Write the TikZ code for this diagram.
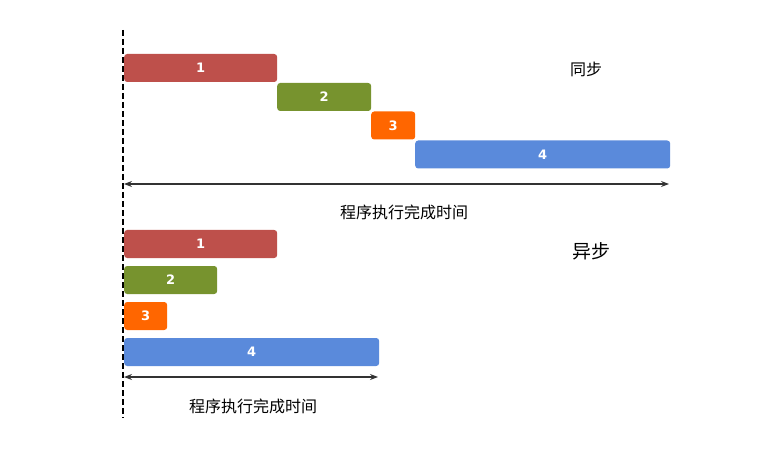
\documentclass[tikz,border=0pt]{standalone}
\usepackage{fontspec}
\newfontfamily\cjk{Noto Sans CJK SC}
\newfontfamily\numfont{DejaVu Sans}
\usetikzlibrary{arrows.meta}
\definecolor{taskred}{HTML}{BE504B}
\definecolor{taskgreen}{HTML}{77932E}
\definecolor{taskorange}{HTML}{FF6600}
\definecolor{taskblue}{HTML}{5A8ADB}

\begin{document}
\begin{tikzpicture}[x=1pt,y=-1pt,
    bar/.style={rounded corners=3pt,inner sep=0pt,minimum height=28pt,anchor=west,
      text=white,font=\numfont\bfseries\fontsize{13}{13}\selectfont},
    lbl/.style={font=\cjk\fontsize{16}{16}\selectfont},
    span/.style={{Stealth[length=8pt,width=6pt]}-{Stealth[length=8pt,width=6pt]},line width=1.2pt,black!80}]
    \useasboundingbox (0,0) rectangle (773,470);
    % start line
    \coordinate (top) at (123,30);
    \coordinate (bot) at (123,418);
    \draw[line width=1.5pt,dash pattern=on 6pt off 3pt] (top) -- (bot);
    % synchronous
    \node[bar,fill=taskred,minimum width=153pt] (s1) at (124,68) {1};
    \node[bar,fill=taskgreen,minimum width=94pt] (s2) at (277,97) {2};
    \node[bar,fill=taskorange,minimum width=44pt] (s3) at (371,125.5) {3};
    \node[bar,fill=taskblue,minimum width=255pt] (s4) at (415,154.5) {4};
    \coordinate (sl) at (124,184);
    \coordinate (sr) at (669,184);
    \draw[span] (sl) -- (sr);
    \node[lbl] (stime) at (404,212) {程序执行完成时间};
    \node[lbl] (sync) at (586,69) {同步};
    % asynchronous
    \node[bar,fill=taskred,minimum width=153pt] (a1) at (124,244) {1};
    \node[bar,fill=taskgreen,minimum width=93pt] (a2) at (124,280) {2};
    \node[bar,fill=taskorange,minimum width=43pt] (a3) at (124,316) {3};
    \node[bar,fill=taskblue,minimum width=255pt] (a4) at (124,352) {4};
    \coordinate (al) at (124,377);
    \coordinate (ar) at (378,377);
    \draw[span] (al) -- (ar);
    \node[lbl] (atime) at (253,406) {程序执行完成时间};
    \node[lbl,font=\cjk\fontsize{19}{19}\selectfont] (async) at (591,251) {异步};
\end{tikzpicture}
\end{document}
